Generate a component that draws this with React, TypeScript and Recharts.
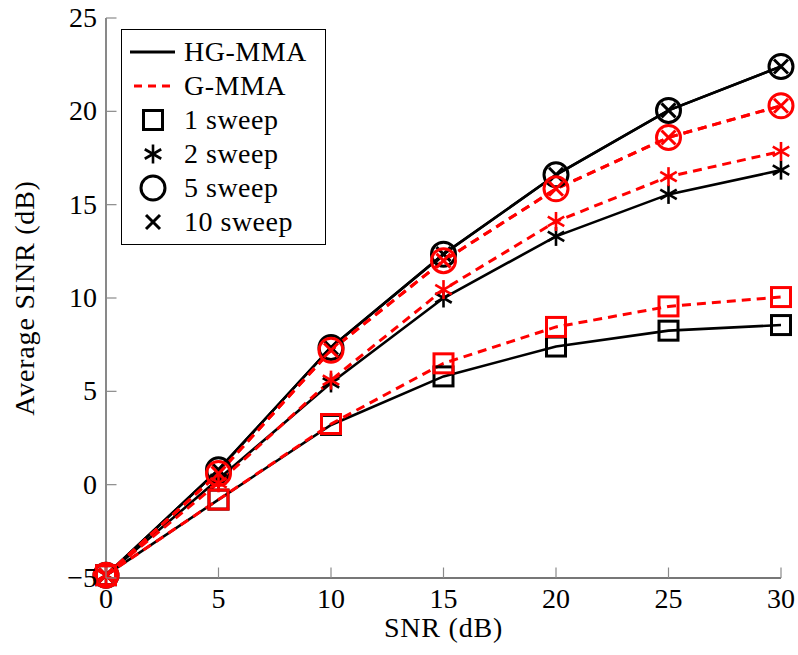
import React from 'react'
import { LineChart, Line, XAxis, YAxis, Legend } from 'recharts'

const SNR = [0, 5, 10, 15, 20, 25, 30]
const HG_1 = [-4.85, -0.8, 3.2, 5.8, 7.4, 8.25, 8.55]
const HG_2 = [-4.85, 0.3, 5.45, 10.0, 13.3, 15.55, 16.85]
const HG_5 = [-4.85, 0.8, 7.35, 12.35, 16.6, 20.05, 22.4]
const HG_10 = [-4.85, 0.8, 7.35, 12.35, 16.6, 20.05, 22.4]
const G_1 = [-4.85, -0.8, 3.25, 6.5, 8.45, 9.55, 10.05]
const G_2 = [-4.85, 0.1, 5.6, 10.45, 14.1, 16.5, 17.85]
const G_5 = [-4.85, 0.6, 7.2, 12.0, 15.85, 18.6, 20.3]
const G_10 = [-4.85, 0.6, 7.2, 12.0, 15.85, 18.6, 20.3]

const X_TICKS = [0, 5, 10, 15, 20, 25, 30]
const Y_TICKS = [-5, 0, 5, 10, 15, 20, 25]

const FONT = "'Liberation Serif', 'Times New Roman', serif"
const FS = 28
const RED = '#ff0000'
const FRAME = '#4a4a4a'
const TICK = '#8a8a8a'
const TICK_LEN = 10.5
const DASH = '9 6'

type Mark = 'square' | 'asterisk' | 'circle' | 'cross'

const data = SNR.map((snr, i) => ({
  snr,
  hg1: HG_1[i], hg2: HG_2[i], hg5: HG_5[i], hg10: HG_10[i],
  g1: G_1[i], g2: G_2[i], g5: G_5[i], g10: G_10[i],
}))

// black first, red on top (same as the reference)
const SERIES: { key: string; color: string; dashed: boolean; mark: Mark }[] = [
  { key: 'hg1', color: '#000', dashed: false, mark: 'square' },
  { key: 'hg2', color: '#000', dashed: false, mark: 'asterisk' },
  { key: 'hg5', color: '#000', dashed: false, mark: 'circle' },
  { key: 'hg10', color: '#000', dashed: false, mark: 'cross' },
  { key: 'g1', color: RED, dashed: true, mark: 'square' },
  { key: 'g2', color: RED, dashed: true, mark: 'asterisk' },
  { key: 'g5', color: RED, dashed: true, mark: 'circle' },
  { key: 'g10', color: RED, dashed: true, mark: 'cross' },
]

const LEGEND_ROWS: { label: string; kind: 'solid' | 'dashed' | Mark }[] = [
  { label: 'HG-MMA', kind: 'solid' },
  { label: 'G-MMA', kind: 'dashed' },
  { label: '1 sweep', kind: 'square' },
  { label: '2 sweep', kind: 'asterisk' },
  { label: '5 sweep', kind: 'circle' },
  { label: '10 sweep', kind: 'cross' },
]

const fmt = (v: number) => (v < 0 ? `\u2212${-v}` : `${v}`)

function Marker({ cx, cy, mark, color }: { cx: number; cy: number; mark: Mark; color: string }) {
  if (mark === 'square')
    return <rect x={cx - 9.5} y={cy - 9.5} width={19} height={19} fill="none" stroke={color} strokeWidth={3} />
  if (mark === 'circle')
    return <circle cx={cx} cy={cy} r={12} fill="none" stroke={color} strokeWidth={3} />
  if (mark === 'cross') {
    const d = 7
    return (
      <g stroke={color} strokeWidth={3}>
        <line x1={cx - d} y1={cy - d} x2={cx + d} y2={cy + d} />
        <line x1={cx - d} y1={cy + d} x2={cx + d} y2={cy - d} />
      </g>
    )
  }
  const r = 9.5
  const a = r * Math.cos(Math.PI / 6)
  const b = r * Math.sin(Math.PI / 6)
  return (
    <g stroke={color} strokeWidth={2.6}>
      <line x1={cx} y1={cy - r} x2={cx} y2={cy + r} />
      <line x1={cx - a} y1={cy - b} x2={cx + a} y2={cy + b} />
      <line x1={cx - a} y1={cy + b} x2={cx + a} y2={cy - b} />
    </g>
  )
}

const BottomTick = (p: any) => (
  <g>
    <line x1={p.x} y1={p.y} x2={p.x} y2={p.y - TICK_LEN} stroke={TICK} strokeWidth={1.2} />
    <text x={p.x} y={p.y + 29.5} textAnchor="middle" fontSize={FS} fontFamily={FONT} fill="#000">
      {fmt(p.payload.value)}
    </text>
  </g>
)

const LeftTick = (p: any) => (
  <g>
    <line x1={p.x} y1={p.y} x2={p.x + TICK_LEN} y2={p.y} stroke={TICK} strokeWidth={1.2} />
    <text x={p.x - 9} y={p.y + 9} textAnchor="end" fontSize={FS} fontFamily={FONT} fill="#000">
      {fmt(p.payload.value)}
    </text>
  </g>
)

const TopTick = (p: any) => (
  <line x1={p.x} y1={p.y} x2={p.x} y2={p.y + TICK_LEN} stroke={TICK} strokeWidth={1.2} />
)

const RightTick = (p: any) => (
  <line x1={p.x} y1={p.y} x2={p.x - TICK_LEN} y2={p.y} stroke={TICK} strokeWidth={1.2} />
)

const XLabel = (p: any) => {
  const vb = p.viewBox
  return (
    <text x={vb.x + vb.width / 2} y={vb.y + 59} textAnchor="middle" fontSize={FS} fontFamily={FONT}
      letterSpacing={0.8} fill="#000">
      SNR (dB)
    </text>
  )
}

const YLabel = (p: any) => {
  const vb = p.viewBox
  const cx = vb.x + 25
  const cy = vb.y + vb.height / 2
  return (
    <text x={cx} y={cy} dy={9} textAnchor="middle" fontSize={FS} fontFamily={FONT} letterSpacing={0.8}
      fill="#000" transform={`rotate(-90 ${cx} ${cy})`}>
      Average SINR (dB)
    </text>
  )
}

const LegendBox = () => (
  <div style={{
    boxSizing: 'border-box', width: 205, height: 216, border: '1.3px solid #000',
    background: '#fff', paddingTop: 5, fontFamily: FONT, fontSize: FS, letterSpacing: 0.5,
  }}>
    {LEGEND_ROWS.map((row) => (
      <div key={row.label} style={{ display: 'flex', alignItems: 'center', height: 34 }}>
        <svg width={62} height={34} style={{ display: 'block', flex: 'none' }}>
          {row.kind === 'solid' && <line x1={8} y1={17} x2={53} y2={17} stroke="#000" strokeWidth={3} />}
          {row.kind === 'dashed' && (
            <line x1={12} y1={17} x2={53} y2={17} stroke={RED} strokeWidth={3} strokeDasharray="8 6" />
          )}
          {row.kind !== 'solid' && row.kind !== 'dashed' && (
            <Marker cx={31} cy={17} mark={row.kind} color="#000" />
          )}
        </svg>
        <span style={{ lineHeight: '34px', whiteSpace: 'nowrap' }}>{row.label}</span>
      </div>
    ))}
  </div>
)

export default function App() {
  return (
    <div style={{ position: 'absolute', left: 0, top: 0, width: 798, height: 655, background: '#fff' }}>
      <LineChart width={798} height={655} data={data} margin={{ top: 18, right: 17, bottom: 0, left: 0 }}>
        <XAxis dataKey="snr" type="number" domain={[0, 30]} ticks={X_TICKS} height={77}
          tickSize={0} tickMargin={0} tickLine={false} tick={BottomTick}
          axisLine={{ stroke: FRAME, strokeWidth: 1.3 }} label={XLabel} />
        <XAxis xAxisId="top" orientation="top" type="number" domain={[0, 30]} ticks={X_TICKS} height={0}
          tickSize={0} tickMargin={0} tickLine={false} tick={TopTick}
          axisLine={{ stroke: FRAME, strokeWidth: 1.3 }} />
        <YAxis type="number" domain={[-5, 25]} ticks={Y_TICKS} width={106}
          tickSize={0} tickMargin={0} tickLine={false} tick={LeftTick}
          axisLine={{ stroke: FRAME, strokeWidth: 1.3 }} label={YLabel} />
        <YAxis yAxisId="right" orientation="right" type="number" domain={[-5, 25]} ticks={Y_TICKS} width={0}
          tickSize={0} tickMargin={0} tickLine={false} tick={RightTick}
          axisLine={{ stroke: FRAME, strokeWidth: 1.3 }} />
        <Legend layout="vertical" align="center" verticalAlign="middle"
          wrapperStyle={{ left: 121, top: 29, width: 205, height: 216 }} content={LegendBox} />
        {SERIES.map((s) => (
          <Line key={s.key} dataKey={s.key} type="linear" stroke={s.color} strokeWidth={s.dashed ? 3 : 2.6}
            strokeDasharray={s.dashed ? DASH : undefined} isAnimationActive={false} activeDot={false}
            dot={(p: any) => <Marker key={`${s.key}-${p.index}`} cx={p.cx} cy={p.cy} mark={s.mark} color={s.color} />} />
        ))}
      </LineChart>
    </div>
  )
}
